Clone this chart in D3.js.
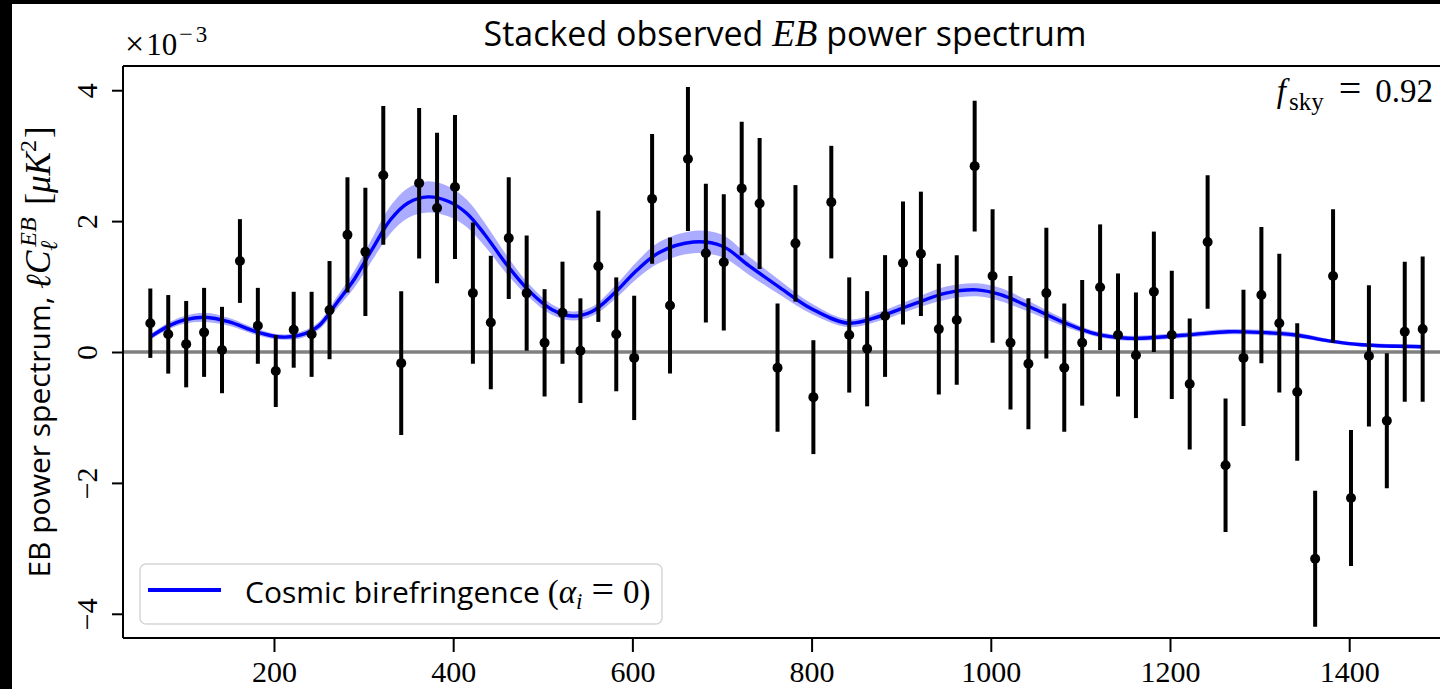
<!DOCTYPE html>
<html>
<head>
<meta charset="utf-8">
<script src="https://cdn.jsdelivr.net/npm/d3@7"></script>
<style>
  html, body { margin: 0; padding: 0; background: #000; overflow: hidden; }
  svg { display: block; }
</style>
</head>
<body>
<svg id="chart" width="1440" height="689"></svg>
<script>
// Multipole bin centres of the stacked EB band powers
const ells = [62, 82, 102, 122, 142, 162, 182, 202, 222, 242, 262, 282, 302, 322, 342, 362, 382, 402,
  422, 442, 462, 482, 502, 522, 542, 562, 582, 602, 622, 642, 662, 682, 702, 722, 742, 762, 782, 802,
  822, 842, 862, 882, 902, 922, 942, 962, 982, 1002, 1022, 1042, 1062, 1082, 1102, 1122, 1142, 1162,
  1182, 1202, 1222, 1242, 1262, 1282, 1302, 1322, 1342, 1362, 1382, 1402, 1422, 1442, 1462, 1482];

// Observed ell*C_ell^EB (units of 1e-3 muK^2)
const clEB = [0.44, 0.27, 0.12, 0.30, 0.03, 1.39, 0.40, -0.29, 0.34, 0.27, 0.64, 1.79, 1.53, 2.70, -0.17,
  2.58, 2.20, 2.52, 0.90, 0.45, 1.74, 0.90, 0.14, 0.60, 0.02, 1.31, 0.27, -0.09, 2.34, 0.71, 2.95, 1.51,
  1.37, 2.50, 2.27, -0.24, 1.66, -0.69, 2.29, 0.26, 0.05, 0.55, 1.36, 1.50, 0.35, 0.49, 2.84, 1.16, 0.14,
  -0.18, 0.90, -0.24, 0.14, 0.99, 0.26, -0.05, 0.92, 0.26, -0.49, 1.68, -1.73, -0.09, 0.87, 0.44, -0.61,
  -3.16, 1.16, -2.23, -0.06, -1.05, 0.31, 0.35];

// 1-sigma uncertainties of the band powers
const clErr = [0.53, 0.60, 0.66, 0.68, 0.66, 0.64, 0.58, 0.55, 0.58, 0.65, 0.75, 0.88, 0.98, 1.06, 1.10,
  1.15, 1.15, 1.10, 1.08, 1.02, 0.93, 0.88, 0.82, 0.78, 0.80, 0.85, 0.87, 0.95, 0.99, 1.04, 1.10, 1.06,
  1.04, 1.02, 1.00, 0.98, 0.89, 0.87, 0.86, 0.88, 0.88, 0.93, 0.94, 0.95, 1.00, 0.99, 1.00, 1.02, 1.02,
  1.00, 1.00, 0.98, 0.96, 0.96, 0.94, 0.96, 0.92, 0.98, 1.00, 1.02, 1.02, 1.04, 1.04, 1.06, 1.05, 1.04,
  1.02, 1.04, 1.08, 1.03, 1.07, 1.11];

// Best-fit cosmic birefringence model and its 1-sigma band
const modelEll = [62, 80, 100, 123, 150, 180, 207, 230, 250, 270, 290, 310, 330, 350, 372, 395, 415, 435,
  460, 485, 510, 533, 555, 580, 605, 630, 668, 700, 730, 765, 800, 841, 877, 915, 950, 984, 1010, 1045,
  1080, 1116, 1153, 1190, 1227, 1265, 1300, 1340, 1377, 1414, 1482];
const modelCl = [0.23, 0.38, 0.49, 0.53, 0.46, 0.31, 0.23, 0.26, 0.40, 0.75, 1.12, 1.58, 2.02, 2.28, 2.37,
  2.30, 2.12, 1.80, 1.33, 0.93, 0.65, 0.55, 0.62, 0.90, 1.25, 1.52, 1.68, 1.62, 1.32, 0.98, 0.66, 0.44,
  0.55, 0.74, 0.90, 0.95, 0.88, 0.68, 0.46, 0.28, 0.21, 0.23, 0.27, 0.31, 0.30, 0.26, 0.17, 0.11, 0.08];
const modelSigma = [0.04, 0.05, 0.06, 0.07, 0.06, 0.05, 0.04, 0.05, 0.06, 0.09, 0.13, 0.17, 0.21, 0.23, 0.24,
  0.23, 0.21, 0.18, 0.14, 0.10, 0.08, 0.07, 0.07, 0.10, 0.13, 0.16, 0.17, 0.17, 0.14, 0.11, 0.08, 0.06,
  0.07, 0.08, 0.10, 0.10, 0.10, 0.08, 0.06, 0.04, 0.04, 0.04, 0.04, 0.04, 0.04, 0.04, 0.03, 0.03, 0.03];

const xTicks = [200, 400, 600, 800, 1000, 1200, 1400];
const yTicks = [-4, -2, 0, 2, 4];

const SANS = "'Open Sans', Lato, sans-serif";
const SERIF = "'Liberation Serif', 'DejaVu Serif', serif";

const svg = d3.select("#chart");
svg.append("rect").attr("width", 1440).attr("height", 689).attr("fill", "#000");
svg.append("rect").attr("x", 12).attr("y", 4).attr("width", 1428).attr("height", 685).attr("fill", "#fff");

const plot = { left: 123, top: 66, right: 1450, bottom: 638 };
const x = d3.scaleLinear().domain([31.5, 1512.5]).range([plot.left, plot.right]);
const y = d3.scaleLinear().domain([-4.37, 4.37]).range([plot.bottom, plot.top]);

// zero reference line
svg.append("line")
  .attr("x1", plot.left).attr("x2", 1440)
  .attr("y1", y(0)).attr("y2", y(0))
  .attr("stroke", "#808080").attr("stroke-width", 3.5);

// model band and curve
const model = modelEll.map((l, i) => ({ l, v: modelCl[i], s: modelSigma[i] }));
const curve = d3.curveCatmullRom.alpha(0.5);
svg.append("path")
  .datum(model)
  .attr("d", d3.area().curve(curve).x(d => x(d.l)).y0(d => y(d.v - d.s)).y1(d => y(d.v + d.s)))
  .attr("fill", "#0000ff").attr("fill-opacity", 0.33);
svg.append("path")
  .datum(model)
  .attr("d", d3.line().curve(curve).x(d => x(d.l)).y(d => y(d.v)))
  .attr("fill", "none").attr("stroke", "#0000ff").attr("stroke-width", 3.4);

// observed band powers with error bars
const pts = ells.map((l, i) => ({ l, v: clEB[i], e: clErr[i] }));
const g = svg.append("g");
g.selectAll("line.err").data(pts).join("line")
  .attr("class", "err")
  .attr("x1", d => x(d.l)).attr("x2", d => x(d.l))
  .attr("y1", d => y(d.v - d.e)).attr("y2", d => y(d.v + d.e))
  .attr("stroke", "#000").attr("stroke-width", 4);
g.selectAll("circle").data(pts).join("circle")
  .attr("cx", d => x(d.l)).attr("cy", d => y(d.v)).attr("r", 5)
  .attr("fill", "#000");

// axes
const xAxis = svg.append("g")
  .attr("transform", `translate(0,${plot.bottom})`)
  .call(d3.axisBottom(x).tickValues(xTicks).tickSize(14).tickPadding(9).tickFormat(d3.format("d")));
xAxis.select(".domain").remove();
xAxis.selectAll(".tick line").attr("stroke", "#000").attr("stroke-width", 2);
xAxis.selectAll(".tick text").attr("font-family", SERIF).attr("font-size", 30).attr("fill", "#000");

const yAxis = svg.append("g")
  .attr("transform", `translate(${plot.left},0)`)
  .call(d3.axisLeft(y).tickValues(yTicks).tickSize(11).tickFormat(d3.format("d")));
yAxis.select(".domain").remove();
yAxis.selectAll(".tick line").attr("stroke", "#000").attr("stroke-width", 2);
yAxis.selectAll(".tick text")
  .attr("x", null).attr("dy", null)
  .attr("text-anchor", "middle")
  .attr("transform", "translate(-26,0) rotate(-90)")
  .attr("font-family", SERIF).attr("font-size", 30).attr("fill", "#000");

// spines
const spine = svg.append("g").attr("stroke", "#000").attr("stroke-width", 2).attr("fill", "none");
spine.append("line").attr("x1", plot.left).attr("x2", plot.left).attr("y1", plot.top).attr("y2", plot.bottom);
spine.append("line").attr("x1", plot.left).attr("x2", 1440).attr("y1", plot.bottom).attr("y2", plot.bottom);
spine.append("line").attr("x1", plot.left).attr("x2", 1440).attr("y1", plot.top).attr("y2", plot.top);

// title
const title = svg.append("text").attr("x", 785).attr("y", 46).attr("text-anchor", "middle")
  .attr("font-family", SANS).attr("font-size", 34).attr("fill", "#000");
title.append("tspan").text("Stacked observed ");
title.append("tspan").attr("font-family", SERIF).attr("font-style", "italic").attr("font-size", 37).text("EB");
title.append("tspan").text(" power spectrum");

// offset text for the y axis
const off = svg.append("text").attr("x", 125).attr("y", 55)
  .attr("font-family", SERIF).attr("font-size", 31).attr("fill", "#000");
off.append("tspan").attr("font-size", 34).text("×");
off.append("tspan").attr("dx", 2).text("10");
off.append("tspan").attr("font-size", 24).attr("dy", -13).attr("dx", 2).text("−");
off.append("tspan").attr("font-size", 23).attr("dx", 3).text("3");

// sky fraction annotation
const fs = svg.append("text").attr("x", 1433).attr("y", 102).attr("text-anchor", "end")
  .attr("font-family", SERIF).attr("font-size", 33).attr("fill", "#000");
fs.append("tspan").attr("font-style", "italic").text("f");
fs.append("tspan").attr("font-size", 25).attr("dy", 8).attr("dx", 3).text("sky");
fs.append("tspan").attr("dy", -8).attr("dx", 15).attr("font-size", 40).text("=");
fs.append("tspan").attr("dx", 14).text("0.92");

// y axis label
const yl = svg.append("text")
  .attr("transform", `translate(50,${(plot.top + plot.bottom) / 2}) rotate(-90)`)
  .attr("text-anchor", "middle").attr("font-family", SANS).attr("font-size", 30).attr("fill", "#000");
yl.append("tspan").text("EB power spectrum, ");
yl.append("tspan").attr("font-family", SERIF).attr("font-style", "italic").attr("font-size", 35).text("ℓC");
yl.append("tspan").attr("font-family", SERIF).attr("font-style", "italic").attr("font-size", 24).attr("dy", 7).text("ℓ");
yl.append("tspan").attr("font-family", SERIF).attr("font-style", "italic").attr("font-size", 24).attr("dx", -6).attr("dy", -21).text("EB");
yl.append("tspan").attr("font-family", SERIF).attr("font-size", 35).attr("dy", 14).attr("dx", 4).text(" [");
yl.append("tspan").attr("font-family", SERIF).attr("font-style", "italic").attr("font-size", 35).text("μK");
yl.append("tspan").attr("font-family", SERIF).attr("font-size", 24).attr("dy", -14).text("2");
yl.append("tspan").attr("font-family", SERIF).attr("font-size", 35).attr("dy", 14).attr("dx", 2).text("]");

// legend
const lg = svg.append("g");
lg.append("rect").attr("x", 140).attr("y", 564).attr("width", 522).attr("height", 60).attr("rx", 6)
  .attr("fill", "#fff").attr("fill-opacity", 0.8).attr("stroke", "#d6d6d6").attr("stroke-width", 1.5);
lg.append("line").attr("x1", 148).attr("x2", 221).attr("y1", 590).attr("y2", 590)
  .attr("stroke", "#0000ff").attr("stroke-width", 4);
const lt = lg.append("text").attr("x", 245).attr("y", 603)
  .attr("font-family", SANS).attr("font-size", 30).attr("fill", "#000");
lt.append("tspan").text("Cosmic birefringence ");
lt.append("tspan").attr("font-family", SERIF).attr("font-size", 33).text("(");
lt.append("tspan").attr("font-family", SERIF).attr("font-style", "italic").attr("font-size", 33).text("α");
lt.append("tspan").attr("font-family", SERIF).attr("font-style", "italic").attr("font-size", 23).attr("dy", 6).text("i");
lt.append("tspan").attr("font-family", SERIF).attr("font-size", 40).attr("dy", -6).attr("dx", 9).text("=");
lt.append("tspan").attr("font-family", SERIF).attr("font-size", 33).attr("dx", 9).text("0)");
</script>
</body>
</html>
